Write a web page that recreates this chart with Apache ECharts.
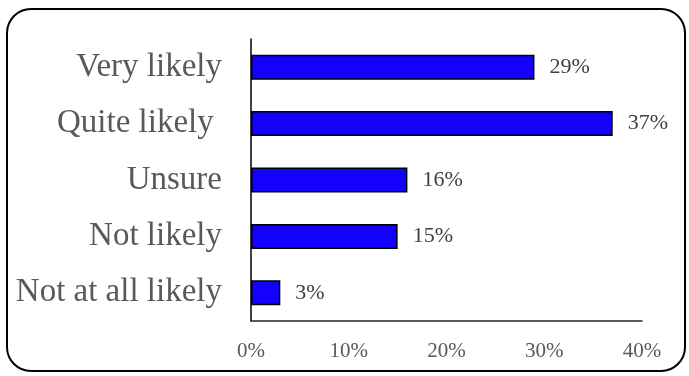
<!DOCTYPE html>
<html>
<head>
<meta charset="utf-8">
<script src="https://cdn.jsdelivr.net/npm/echarts@6/dist/echarts.min.js"></script>
<style>
  html, body { margin: 0; padding: 0; background: #fff; }
  #chart { width: 689px; height: 376px; }
</style>
</head>
<body>
<div id="chart"></div>
<script>
// Survey responses, listed bottom to top as the category axis draws them
const categories = ['Not at all likely', 'Not likely', 'Unsure', 'Quite likely ', 'Very likely'];
const shares = [3, 15, 16, 37, 29];
const xTicks = [0, 10, 20, 30, 40];

const serif = '"Liberation Serif", "Times New Roman", serif';

const chart = echarts.init(document.getElementById('chart'));
chart.setOption({
  animation: false,
  grid: { left: 251, right: 47, top: 39, bottom: 55 },
  graphic: [{
    type: 'rect',
    shape: { x: 7, y: 9, width: 678, height: 362, r: 24 },
    style: { fill: 'none', stroke: '#000', lineWidth: 2 },
    silent: true
  }],
  xAxis: {
    type: 'value',
    min: xTicks[0],
    max: xTicks[xTicks.length - 1],
    interval: 10,
    axisLine: { show: true, lineStyle: { color: '#262626', width: 1.5 } },
    axisTick: { show: false },
    splitLine: { show: false },
    axisLabel: {
      formatter: v => v + '%',
      color: '#595959',
      fontFamily: serif,
      fontSize: 21,
      margin: 20
    }
  },
  yAxis: {
    type: 'category',
    data: categories,
    axisLine: { show: true, lineStyle: { color: '#000', width: 1.5 } },
    axisTick: { show: false },
    axisLabel: {
      color: '#595959',
      fontFamily: serif,
      fontSize: 33,
      margin: 29
    }
  },
  series: [{
    type: 'bar',
    data: shares,
    barWidth: 25,
    itemStyle: { color: '#1400FF', borderColor: '#000', borderWidth: 1.5 },
    label: {
      show: true,
      position: 'right',
      distance: 15,
      formatter: p => p.value + '%',
      color: '#404040',
      fontFamily: serif,
      fontSize: 22
    }
  }]
});
</script>
</body>
</html>
